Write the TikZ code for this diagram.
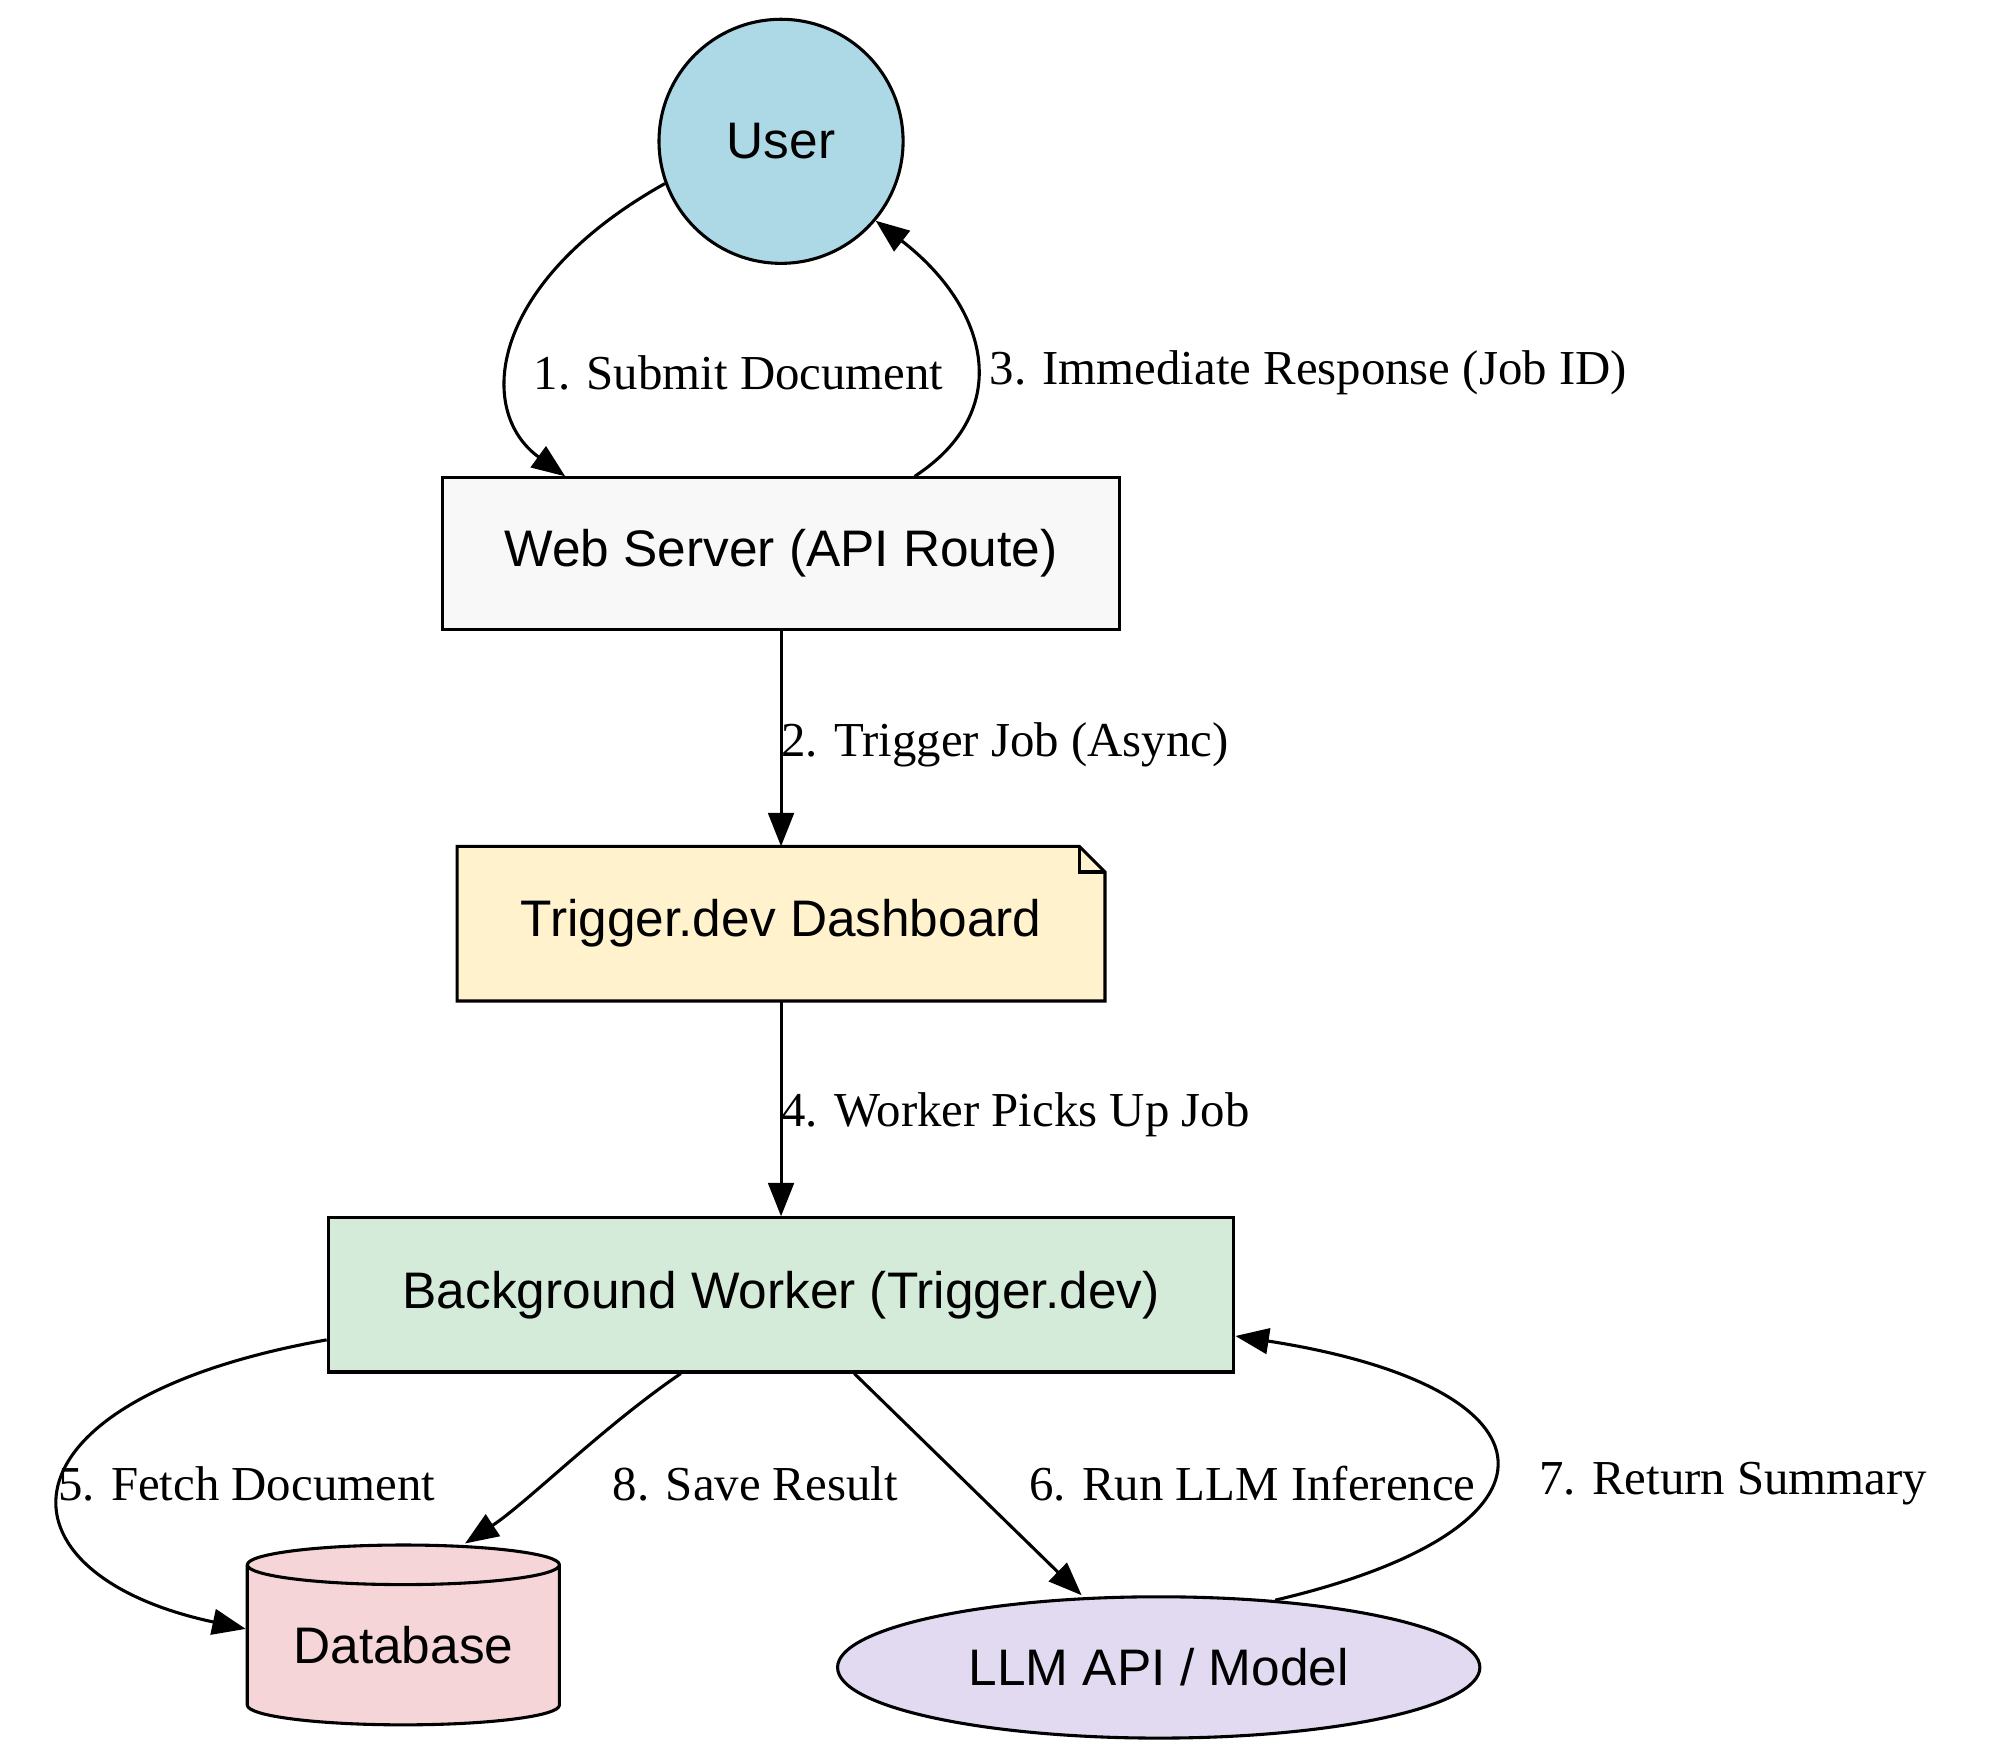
\documentclass[tikz,border=0pt]{standalone}
\usepackage{fontspec}
\setmainfont{Liberation Serif}
\setsansfont{Liberation Sans}
\usetikzlibrary{shapes.geometric,arrows.meta}
\definecolor{userblue}{HTML}{ADD8E6}
\definecolor{webgray}{HTML}{F8F8F8}
\definecolor{noteyellow}{HTML}{FFF2CC}
\definecolor{workergreen}{HTML}{D5EBDA}
\definecolor{dbpink}{HTML}{F5D5D8}
\definecolor{llmlilac}{HTML}{E1DAF1}
\begin{document}
\begin{tikzpicture}[x=0.5pt,y=-0.5pt,
                    base_node/.style={draw=black, line width=1.2pt, font=\sffamily\fontsize{20}{24}\selectfont, inner sep=0pt},
                    box_node/.style={base_node, rectangle},
                    edge_label/.style={font=\fontsize{19}{23}\selectfont, inner sep=1pt},
                    flow/.style={line width=1.2pt, -{Triangle[length=13pt,width=10pt]}}
                ]
    \useasboundingbox (0,0) rectangle (1560,1361);
    % nodes
    \node[base_node, circle, fill=userblue, minimum size=95pt] (user) at (608,110) {User};
    \node[box_node, fill=webgray, minimum width=263.5pt, minimum height=59pt] (web) at (608,431) {Web Server (API Route)};
    \node[box_node, draw=none, minimum width=251pt, minimum height=59pt] (dash) at (608,719) {Trigger.dev Dashboard};
    \begin{scope}[on background layer/.try]
        \filldraw[fill=noteyellow, line width=1.2pt] (dash.south west) -- (dash.north west) -- ([xshift=-10pt]dash.north east)
            -- ([yshift=-10pt]dash.north east) -- (dash.south east) -- cycle;
    \end{scope}
    \node[box_node, draw=none, minimum width=251pt, minimum height=59pt] at (608,719) {Trigger.dev Dashboard};
    \draw[line width=1.2pt] ([xshift=-10pt]dash.north east) -- ([xshift=-10pt,yshift=-10pt]dash.north east) -- ([yshift=-10pt]dash.north east);
    \node[box_node, fill=workergreen, minimum width=352.5pt, minimum height=60pt] (worker) at (608,1008) {Background Worker (Trigger.dev)};
    \node[base_node, cylinder, shape border rotate=90, aspect=0.18, fill=dbpink, minimum width=121.5pt, minimum height=70pt] (db) at (314,1281) {Database};
    \node[base_node, ellipse, fill=llmlilac, minimum width=250pt, minimum height=55pt] (llm) at (902,1298) {LLM API / Model};
    % connectors
    \coordinate (c1) at (380,230); \coordinate (c2) at (380,320);
    \draw[flow] (user.200) .. controls (380,220) and (370,320) .. (web.north west -| 440,0);
    \draw[flow] (web.north east -| 712,0) .. controls (790,320) and (770,240) .. (user.-40);
    \draw[flow] (web) -- (dash);
    \draw[flow] (dash) -- (worker);
    \draw[flow] (worker.south west |- 0,1043) .. controls (-10,1090) and (-10,1225) .. (db.west |- 0,1268);
    \draw[flow] (worker.south -| 530,0) .. controls (470,1110) and (410,1170) .. (db.north -| 362,0);
    \draw[flow] (worker.south -| 665,0) -- (llm.north -| 842,0);
    \draw[flow] (llm.30) .. controls (1230,1190) and (1220,1080) .. (worker.east |- 0,1040);
    % labels
    \node[edge_label] (l1) at (575,290) {1. Submit Document};
    \node[edge_label, anchor=west] (l3) at (768,290) {3. Immediate Response (Job ID)};
    \node[edge_label, anchor=west] (l2) at (606,580) {2. Trigger Job (Async)};
    \node[edge_label, anchor=west] (l4) at (606,868) {4. Worker Picks Up Job};
    \node[edge_label] (l5) at (192,1155) {5. Fetch Document};
    \node[edge_label] (l8) at (588,1155) {8. Save Result};
    \node[edge_label] (l6) at (975,1155) {6. Run LLM Inference};
    \node[edge_label, anchor=west] (l7) at (1196,1155) {7. Return Summary};
\end{tikzpicture}
\end{document}
